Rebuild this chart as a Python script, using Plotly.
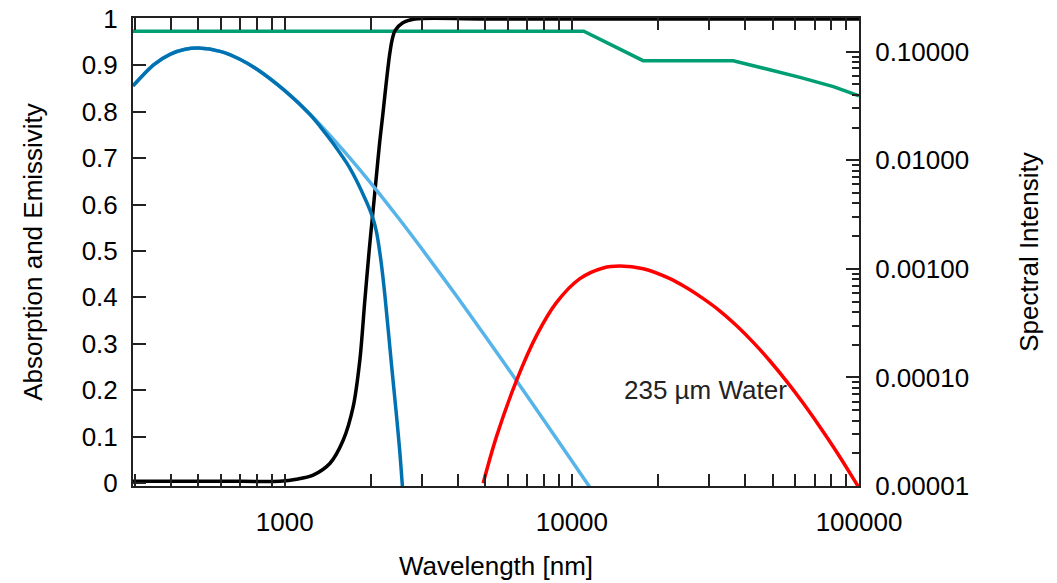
import plotly.graph_objects as go

# ---- data ----
# Emissivity (left axis)
green_wl = [296, 11000, 17700, 36500, 47700, 62300, 81400, 100000]
green_val = [0.9735, 0.9735, 0.910, 0.910, 0.892, 0.874, 0.854, 0.834]

# Absorption of 235 um water (left axis)
black_wl = [296, 600, 961, 1098, 1255, 1435, 1597, 1730, 1825, 1900, 1967, 2032,
            2080, 2141, 2196, 2231, 2317, 2365, 2420, 2577, 2838, 5000, 100000]
black_val = [0.004, 0.004, 0.004, 0.008, 0.017, 0.042, 0.092, 0.164, 0.264, 0.393,
             0.50, 0.59, 0.655, 0.735, 0.795, 0.835, 0.922, 0.955, 0.975, 0.992,
             1.0, 1.0, 1.0]

# Solar spectral intensity (right axis)
sun_wl = [296, 350, 400, 450, 500, 600, 700, 800, 1000, 1200, 1500, 2000,
          2500, 3000, 4000, 5000, 6000, 8000, 10000, 12000]
sun_val = [0.0484, 0.0761, 0.0949, 0.1051, 0.108, 0.1001, 0.0847, 0.0688, 0.0437,
           0.0279, 0.0149, 0.0061, 0.00289, 0.00153, 0.000544, 0.000238, 0.000120,
           0.0000402, 0.0000170, 0.0000084]

# Solar spectral intensity after the water layer (right axis)
trans_wl = [296, 350, 400, 450, 500, 600, 700, 800, 1000, 1222, 1324, 1470, 1685,
            1920, 2026, 2087, 2165, 2231, 2354, 2450, 2516, 2563, 2598]
trans_val = [0.0484, 0.0761, 0.0949, 0.1051, 0.108, 0.1001, 0.0847, 0.0688, 0.0437,
             0.0265, 0.02065, 0.01439, 0.00847, 0.00421, 0.00294, 0.00218, 0.001156,
             0.000574, 0.000130, 0.0000442, 0.0000205, 0.0000107, 0.0000066]

# Thermal emission (right axis)
red_wl = [4909, 5465, 6417, 7534, 8845, 10664, 12853, 14697, 17720, 21950, 25100,
          28680, 32790, 37490, 42830, 48970, 55980, 63960, 73120, 83610, 98170, 100000]
red_val = [1.06e-5, 2.862e-5, 9.38e-5, 2.436e-4, 4.905e-4, 8.12e-4, 1.019e-3, 1.06e-3,
           1.002e-3, 8.12e-4, 6.68e-4, 5.31e-4, 4.087e-4, 2.992e-4, 2.104e-4, 1.416e-4,
           9.19e-5, 5.775e-5, 3.494e-5, 2.056e-5, 1.043e-5, 9.65e-6]

x_major = [1000, 10000, 100000]
x_major_text = ["1000", "10000", "100000"]
y_left_ticks = [0, 0.1, 0.2, 0.3, 0.4, 0.5, 0.6, 0.7, 0.8, 0.9, 1]
y_left_text = ["0", "0.1", "0.2", "0.3", "0.4", "0.5", "0.6", "0.7", "0.8", "0.9", "1"]
y_right_ticks = [1e-5, 1e-4, 1e-3, 1e-2, 1e-1]
y_right_text = ["0.00001", "0.00010", "0.00100", "0.01000", "0.10000"]
label_text = "235 µm Water"

FONT = "Liberation Sans"
FS = 26
LW = 3.5

x_minor = [m * 10 ** e for e in (2, 3, 4) for m in range(2, 10) if 296 <= m * 10 ** e <= 100000]
y2_minor = [m * 10 ** e for e in (-5, -4, -3, -2, -1) for m in range(2, 10) if m * 10 ** e <= 0.2]

fig = go.Figure()
fig.add_trace(go.Scatter(x=green_wl, y=green_val, mode="lines",
                         line=dict(color="#009E73", width=LW), yaxis="y"))
fig.add_trace(go.Scatter(x=sun_wl, y=sun_val, mode="lines",
                         line=dict(color="#56B4E9", width=LW, shape="spline", smoothing=1.0),
                         yaxis="y2"))
fig.add_trace(go.Scatter(x=trans_wl, y=trans_val, mode="lines",
                         line=dict(color="#0072B2", width=LW, shape="spline", smoothing=0.8),
                         yaxis="y2"))
fig.add_trace(go.Scatter(x=black_wl, y=black_val, mode="lines",
                         line=dict(color="#000000", width=LW, shape="spline", smoothing=0.9),
                         yaxis="y"))
fig.add_trace(go.Scatter(x=red_wl, y=red_val, mode="lines",
                         line=dict(color="#FF0000", width=LW, shape="spline", smoothing=1.0),
                         yaxis="y2"))

axis_line = dict(showline=True, linecolor="#222222", linewidth=2, showgrid=False,
                 zeroline=False, tickcolor="#222222", tickwidth=1.5,
                 ticklabeloverflow="allow",
                 tickfont=dict(family=FONT, size=FS, color="#000000"))

fig.update_layout(
    width=1057, height=583,
    margin=dict(l=133, r=198, t=18, b=97),
    paper_bgcolor="white", plot_bgcolor="white",
    showlegend=False,
    font=dict(family=FONT, size=FS, color="#000000"),
    xaxis=dict(type="log", range=[2.4713, 5], tickmode="array", tickvals=x_major,
               ticktext=x_major_text, ticks="inside", ticklen=12, mirror="allticks",
               minor=dict(tickmode="array", tickvals=x_minor, ticks="inside", ticklen=6,
                          tickcolor="#222222", tickwidth=1.5),
               title=dict(text="Wavelength [nm]", font=dict(family=FONT, size=FS), standoff=21),
               automargin=False, ticklabelstandoff=12, **axis_line),
    yaxis=dict(range=[-0.0065, 1.002], tickmode="array", tickvals=y_left_ticks,
               ticktext=y_left_text, ticks="inside", ticklen=13, mirror=False,
               title=dict(text="Absorption and Emissivity", font=dict(family=FONT, size=FS), standoff=32),
               automargin=False, ticklabelstandoff=8, **axis_line),
    yaxis2=dict(type="log", range=[-5, -0.69], overlaying="y", side="right",
                tickmode="array", tickvals=y_right_ticks, ticktext=y_right_text,
                ticks="inside", ticklen=13,
                minor=dict(tickmode="array", tickvals=y2_minor, ticks="inside", ticklen=7,
                           tickcolor="#222222", tickwidth=1.5),
                title=dict(text="Spectral Intensity", font=dict(family=FONT, size=FS), standoff=52),
                automargin=False, ticklabelstandoff=9, **axis_line),
    annotations=[dict(text=label_text, xref="paper", yref="paper", x=0.789, y=0.205,
                      xanchor="center", yanchor="middle", showarrow=False,
                      font=dict(family=FONT, size=FS, color="#222222"))],
)

fig.write_html("out.html", config={"displayModeBar": False},
               post_script="document.body.style.margin='0px';document.body.style.overflow='hidden';")
